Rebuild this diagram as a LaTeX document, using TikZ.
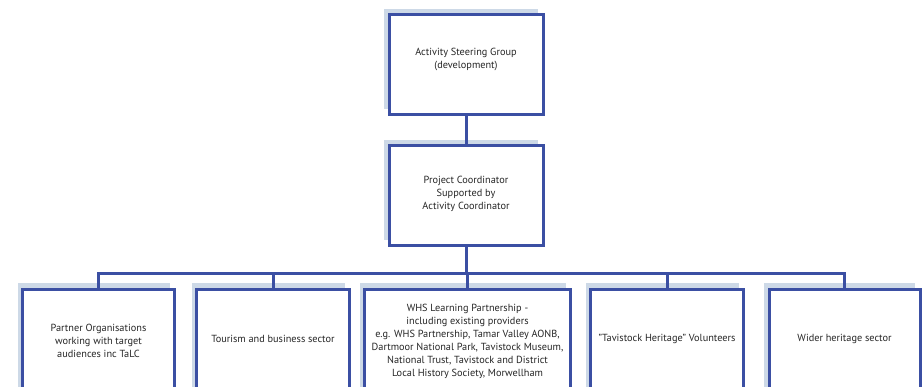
\documentclass[tikz,border=0pt]{standalone}
\usepackage{fontspec}
\setmainfont{PT Sans}
\usetikzlibrary{shadows,calc}
\definecolor{bordblue}{HTML}{3B4FA3}
\definecolor{shadblue}{HTML}{CDD9E7}
\tikzset{
  box/.style={draw=bordblue, line width=3pt, fill=white, rectangle, inner sep=0pt,
    drop shadow={shadow xshift=-5pt, shadow yshift=6pt, fill=shadblue, opacity=1}},
  txt/.style={align=center, font=\fontsize{10.3}{13}\selectfont, text=black!85},
  conn/.style={draw=bordblue, line width=3pt}
}
\begin{document}
\begin{tikzpicture}[x=1pt,y=-1pt]
\useasboundingbox (0,0) rectangle (924,386);
\node[box, minimum width=154pt, minimum height=100pt] (top) at (466,64.5) {};
\node[txt] (toptxt) at (466,59.5) {Activity Steering Group\\(development)};
\node[box, minimum width=154pt, minimum height=100pt] (mid) at (466,195.5) {};
\node[txt] (midtxt) at (466,193.5) {Project Coordinator\\Supported by\\Activity Coordinator};
\coordinate (bus) at (466,273);
\node[box, minimum width=152pt, minimum height=104pt] (b1) at (98.5,341) {};
\node[box, minimum width=153pt, minimum height=104pt] (b2) at (273,341) {};
\node[box, minimum width=206pt, minimum height=104pt] (b3) at (467.5,341) {};
\node[box, minimum width=153pt, minimum height=104pt] (b4) at (667,341) {};
\node[box, minimum width=151pt, minimum height=104pt] (b5) at (844.5,341) {};
\node[txt] (t1) at (98.5,341) {Partner Organisations\\working with target\\audiences inc TaLC};
\node[txt] (t2) at (273,339) {Tourism and business sector};
\node[txt] (t3) at (467.5,341.5) {WHS Learning Partnership -\\including existing providers\\e.g. WHS Partnership, Tamar Valley AONB,\\Dartmoor National Park, Tavistock Museum,\\National Trust, Tavistock and District\\Local History Society, Morwellham};
\node[txt] (t4) at (667,339) {"Tavistock Heritage" Volunteers};
\node[txt] (t5) at (844.5,339) {Wider heritage sector};
\draw[conn] (top.south) -- (mid.north);
\draw[conn] (mid.south) -- (bus);
\draw[conn] (b1.north) |- (bus) -| (b5.north);
\draw[conn] (b2.north) -- (b2.north |- bus);
\draw[conn] (b3.north) -- (b3.north |- bus);
\draw[conn] (b4.north) -- (b4.north |- bus);
\end{tikzpicture}
\end{document}
